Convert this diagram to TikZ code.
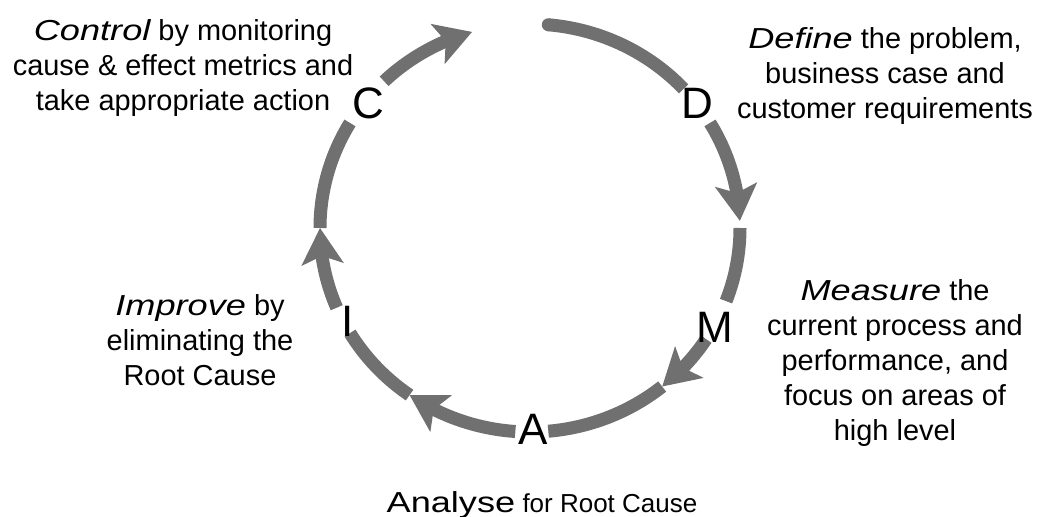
\documentclass[tikz,border=0pt]{standalone}
\usepackage{fontspec}
\setmainfont{Liberation Sans}
\newfontfamily\widefont{Liberation Sans}[FakeStretch=1.25]
\usetikzlibrary{arrows.meta,bending}
\definecolor{ringgray}{RGB}{112,112,112}
\begin{document}
\begin{tikzpicture}[x=0.75pt,y=-0.75pt,
  ring/.style={draw=ringgray,line width=9.75pt},
  ringarrow/.style={ring,-{Stealth[length=27pt,width=31pt,inset=6pt,flex]}},
  letter/.style={font=\fontsize{33}{33}\selectfont,inner sep=0pt},
  note/.style={font=\fontsize{21.7}{26.25}\selectfont,align=center,inner sep=0pt,anchor=base},
]
\useasboundingbox (0,0) rectangle (1038,517);

% centre and radii of the DMAIC ring
\coordinate (ring) at (530,228);
\newcommand\ringarc[3][ring]{%
  \draw[#1] ([shift={(#2:157.5pt and 153pt)}]ring)
    arc[start angle=#2,end angle=#3,x radius=157.5pt,y radius=153pt];}

% ring segments, clockwise
\fill[ringgray] ([shift={(85:157.5pt and 153pt)}]ring) circle[radius=4.875pt];
\ringarc{85}{43}
\ringarc[ringarrow]{31}{2}
\ringarc{0}{-21}
\ringarc[ringarrow]{-33}{-51}
\ringarc{-51}{-85}
\ringarc[ringarrow]{-94}{-125}
\ringarc{-125}{-149}
\ringarc[ringarrow]{-157}{-180}
\ringarc{180}{149}
\ringarc[ringarrow]{134}{106}

% phase letters
\node[letter] (C) at (368,103) {C};
\node[letter] (D) at (697,103) {D};
\node[letter] (M) at (715,327) {M};
\node[letter] (A) at (533,429) {A};
\node[letter] (I) at (348,321) {I};

% phase descriptions (anchored at the baseline of their last line)
\node[note] (control) at (183,110)
  {{\widefont\itshape Control} by monitoring\\cause \& effect metrics and\\take appropriate action};
\node[note] (define) at (885,118)
  {{\widefont\itshape Define} the problem,\\business case and\\customer requirements};
\node[note] (measure) at (895,440)
  {{\widefont\itshape Measure} the\\current process and\\performance, and\\focus on areas of\\high level};
\node[note] (improve) at (200,385)
  {{\widefont\itshape Improve} by\\eliminating the\\Root Cause};
\node[note,font=\fontsize{19.5}{24}\selectfont] (analyse) at (542,512)
  {{\widefont\fontsize{21.7}{26}\selectfont Analyse} for Root Cause};
\end{tikzpicture}
\end{document}
